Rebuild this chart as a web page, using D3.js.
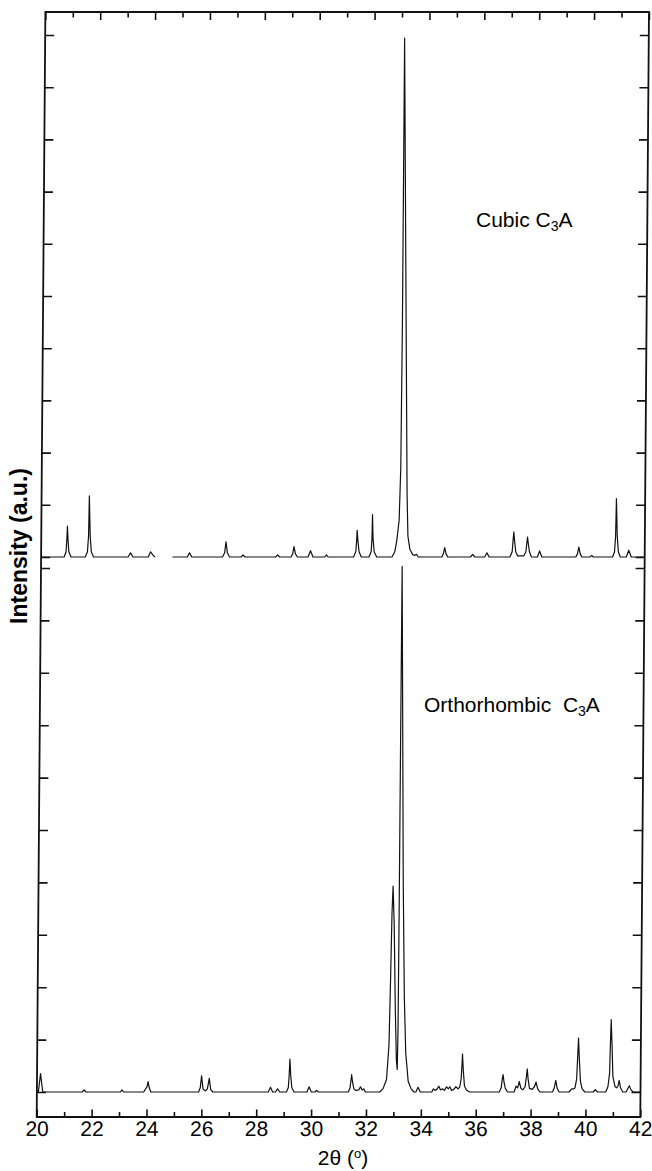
<!DOCTYPE html>
<html>
<head>
<meta charset="utf-8">
<script src="https://cdn.jsdelivr.net/npm/d3@7"></script>
<style>
  body { margin: 0; background: #fff; }
  svg text { font-family: "Liberation Sans", Arial, Helvetica, sans-serif; fill: #000; }
  .tick line { stroke: #111; stroke-width: 1.6; }
  .domain { display: none; }
</style>
</head>
<body>
<svg id="chart" width="652" height="1171"></svg>
<script>
// 2θ axis
const xDomain = [20, 42];
const xMajorTicks = [20, 22, 24, 26, 28, 30, 32, 34, 36, 38, 40, 42];
const xMinorTicks = [21, 23, 25, 27, 29, 31, 33, 35, 37, 39, 41];
// unlabelled intensity ticks, one set per pattern
const yTicks = [0, 1, 2, 3, 4, 5, 6, 7, 8, 9, 10];

// Cubic C3A pattern: [2θ, intensity]; null marks the missing stretch
const cubicPattern = [
  [20.00, 0], [21.00, 0], [21.07, 0.1], [21.10, 0.35], [21.12, 0.59], [21.14, 0.35], [21.17, 0.1], [21.25, 0],
  [21.77, 0], [21.85, 0.1], [21.89, 0.4], [21.92, 1.17], [21.95, 0.4], [21.99, 0.1], [22.07, 0],
  [23.33, 0], [23.42, 0.08], [23.51, 0],
  [24.07, 0], [24.15, 0.10], [24.23, 0.04], [24.31, 0], [24.35, null],
  [24.95, 0], [25.49, 0], [25.57, 0.08], [25.65, 0],
  [26.77, 0], [26.85, 0.08], [26.90, 0.29], [26.95, 0.08], [27.03, 0],
  [27.45, 0], [27.52, 0.04], [27.59, 0],
  [28.71, 0], [28.78, 0.04], [28.85, 0],
  [29.27, 0], [29.33, 0.06], [29.38, 0.2], [29.43, 0.06], [29.50, 0],
  [29.89, 0], [29.98, 0.12], [30.07, 0],
  [30.50, 0], [30.56, 0.04], [30.62, 0],
  [31.55, 0], [31.63, 0.1], [31.66, 0.3], [31.68, 0.51], [31.71, 0.3], [31.75, 0.1], [31.83, 0],
  [32.11, 0], [32.19, 0.1], [32.22, 0.35], [32.24, 0.81], [32.26, 0.35], [32.30, 0.1], [32.39, 0],
  [32.95, 0], [33.05, 0.1], [33.12, 0.3], [33.21, 0.7], [33.27, 1.7], [33.33, 4.5], [33.41, 9.94],
  [33.47, 4.0], [33.50, 1.2], [33.53, 0.4], [33.60, 0.15], [33.70, 0.05], [33.77, 0.03], [33.84, 0.05], [33.91, 0],
  [34.77, 0], [34.82, 0.06], [34.87, 0.18], [34.92, 0.06], [34.98, 0],
  [35.81, 0], [35.89, 0.05], [35.97, 0],
  [36.33, 0], [36.41, 0.08], [36.49, 0],
  [37.25, 0], [37.33, 0.1], [37.36, 0.3], [37.39, 0.48], [37.42, 0.3], [37.46, 0.1], [37.53, 0.02],
  [37.75, 0.02], [37.83, 0.1], [37.86, 0.25], [37.89, 0.38], [37.92, 0.25], [37.96, 0.1], [38.03, 0],
  [38.25, 0], [38.33, 0.115], [38.41, 0],
  [39.65, 0], [39.71, 0.06], [39.76, 0.19], [39.81, 0.06], [39.87, 0],
  [40.17, 0], [40.23, 0.03], [40.29, 0],
  [40.99, 0], [41.06, 0.1], [41.10, 0.4], [41.13, 1.12], [41.16, 0.4], [41.20, 0.1], [41.27, 0],
  [41.49, 0], [41.58, 0.13], [41.67, 0],
  [42.20, 0]
];

// Orthorhombic C3A pattern: [2θ, intensity]
const orthoPattern = [
  [20.00, 0], [20.06, 0], [20.14, 0.35], [20.22, 0],
  [21.66, 0], [21.73, 0.04], [21.80, 0],
  [23.05, 0], [23.11, 0.04], [23.17, 0],
  [23.90, 0], [23.96, 0.05], [24.02, 0.1], [24.06, 0.2], [24.10, 0.08], [24.16, 0],
  [25.90, 0], [25.96, 0.08], [26.01, 0.31], [26.06, 0.06], [26.15, 0.02],
  [26.22, 0.06], [26.29, 0.26], [26.34, 0.05], [26.42, 0],
  [28.44, 0], [28.52, 0.09], [28.60, 0], [28.70, 0], [28.78, 0.06], [28.86, 0],
  [29.10, 0], [29.17, 0.08], [29.20, 0.3], [29.23, 0.63], [29.26, 0.3], [29.30, 0.08], [29.38, 0],
  [29.85, 0], [29.93, 0.1], [30.01, 0], [30.14, 0], [30.20, 0.03], [30.26, 0],
  [31.36, 0], [31.42, 0.08], [31.45, 0.2], [31.48, 0.33], [31.51, 0.2], [31.56, 0.06], [31.63, 0.03],
  [31.74, 0.04], [31.80, 0.10], [31.86, 0.04], [31.92, 0.06], [31.98, 0],
  [32.50, 0], [32.62, 0.06], [32.75, 0.24], [32.84, 0.9], [32.90, 2.2], [32.95, 3.4], [32.99, 3.93],
  [33.03, 3.2], [33.07, 1.6], [33.11, 0.6], [33.14, 0.43], [33.17, 1.2], [33.21, 3.4], [33.26, 6.5],
  [33.32, 10.03], [33.36, 4.0], [33.40, 1.8], [33.45, 0.75], [33.54, 0.2], [33.65, 0.06], [33.75, 0],
  [33.82, 0], [33.90, 0.09], [33.98, 0],
  [34.40, 0], [34.46, 0.06], [34.52, 0.03], [34.58, 0.05], [34.66, 0.11], [34.72, 0.04], [34.80, 0.06],
  [34.86, 0.03], [34.94, 0.10], [35.00, 0.06], [35.06, 0.10], [35.12, 0.03], [35.20, 0.05], [35.28, 0.10],
  [35.36, 0.06], [35.42, 0.1], [35.47, 0.25], [35.50, 0.5], [35.52, 0.725], [35.55, 0.4], [35.59, 0.12],
  [35.66, 0.04], [35.78, 0],
  [36.86, 0], [36.93, 0.08], [36.97, 0.25], [37.00, 0.33], [37.03, 0.2], [37.08, 0.07], [37.16, 0],
  [37.40, 0], [37.47, 0.11], [37.53, 0.08], [37.59, 0.2], [37.65, 0.07],
  [37.72, 0.04], [37.80, 0.1], [37.85, 0.3], [37.88, 0.44], [37.91, 0.25], [37.96, 0.07], [38.06, 0.05],
  [38.14, 0.1], [38.20, 0.19], [38.26, 0.06], [38.34, 0],
  [38.80, 0], [38.86, 0.07], [38.92, 0.22], [38.97, 0.07], [39.04, 0],
  [39.40, 0], [39.50, 0.06], [39.58, 0.06],
  [39.62, 0.08], [39.68, 0.25], [39.72, 0.7], [39.75, 1.03], [39.78, 0.6], [39.82, 0.2], [39.88, 0.06], [39.98, 0],
  [40.28, 0], [40.36, 0.045], [40.44, 0],
  [40.74, 0], [40.82, 0.1], [40.88, 0.35], [40.91, 0.9], [40.94, 1.38], [40.97, 0.9], [41.00, 0.3],
  [41.08, 0.1], [41.14, 0.08], [41.19, 0.12], [41.23, 0.22], [41.28, 0.08], [41.36, 0],
  [41.48, 0], [41.60, 0.12], [41.66, 0.04], [41.74, 0], [42.00, 0]
];

const frame = { left: 36.7, right: 640.3, top: 12, bottom: 1117 };
const lean = -0.45; // the axis box leans slightly to the right towards the top, degrees
const leanTransform = `translate(0,${frame.bottom}) skewX(${lean}) translate(0,${-frame.bottom})`;

const svg = d3.select("#chart");

const x = d3.scaleLinear().domain(xDomain).range([frame.left, frame.right]);
const yCubic = d3.scaleLinear().domain([0, 10]).range([557, 35]);
const yOrtho = d3.scaleLinear().domain([0, 10]).range([1092, 568]);

// clip traces to the leaning box
svg.append("defs").append("clipPath").attr("id", "box")
  .append("rect")
  .attr("transform", leanTransform)
  .attr("x", frame.left).attr("y", frame.top)
  .attr("width", frame.right - frame.left).attr("height", frame.bottom - frame.top);

// diffraction traces
const lineFor = y => d3.line()
  .defined(d => d[1] !== null)
  .x(d => x(d[0]))
  .y(d => y(d[1]));

const traces = svg.append("g").attr("clip-path", "url(#box)");
traces.append("path")
  .datum(cubicPattern)
  .attr("d", lineFor(yCubic))
  .attr("fill", "none").attr("stroke", "#111").attr("stroke-width", 1.2).attr("stroke-linejoin", "round");
traces.append("path")
  .datum(orthoPattern)
  .attr("d", lineFor(yOrtho))
  .attr("fill", "none").attr("stroke", "#111").attr("stroke-width", 1.2).attr("stroke-linejoin", "round");

// axis box and ticks
const box = svg.append("g").attr("transform", leanTransform);

box.append("rect")
  .attr("x", frame.left).attr("y", frame.top)
  .attr("width", frame.right - frame.left).attr("height", frame.bottom - frame.top)
  .attr("fill", "none").attr("stroke", "#111").attr("stroke-width", 1.8);

box.append("g")
  .attr("transform", `translate(0,${frame.bottom})`)
  .call(d3.axisBottom(x).tickValues(xMajorTicks).tickSizeInner(-7.5).tickSizeOuter(0).tickPadding(4).tickFormat(d3.format("d")))
  .call(g => g.selectAll("text").attr("font-size", 21).style("font-family", "'Liberation Sans', Arial, sans-serif"));
box.append("g")
  .attr("transform", `translate(0,${frame.bottom})`)
  .call(d3.axisBottom(x).tickValues(xMinorTicks).tickSizeInner(-5).tickSizeOuter(0).tickFormat(""));

box.append("g")
  .attr("transform", `translate(0,${frame.top})`)
  .call(d3.axisTop(x).tickValues(xMajorTicks).tickSizeInner(-8).tickSizeOuter(0).tickFormat(""));
box.append("g")
  .attr("transform", `translate(0,${frame.top})`)
  .call(d3.axisTop(x).tickValues(xMinorTicks).tickSizeInner(-5.5).tickSizeOuter(0).tickFormat(""));

[yCubic, yOrtho].forEach(y => {
  box.append("g")
    .attr("transform", `translate(${frame.left},0)`)
    .call(d3.axisLeft(y).tickValues(yTicks).tickSizeInner(-9).tickSizeOuter(0).tickFormat(""));
  box.append("g")
    .attr("transform", `translate(${frame.right},0)`)
    .call(d3.axisRight(y).tickValues(yTicks).tickSizeInner(-9).tickSizeOuter(0).tickFormat(""));
});

// phase labels
function phaseLabel(px, py, name) {
  const t = svg.append("text").attr("x", px).attr("y", py).attr("font-size", 21);
  t.append("tspan").text(name + "C");
  t.append("tspan").attr("font-size", 14).attr("dy", 4).text("3");
  t.append("tspan").attr("dy", -4).text("A");
}
phaseLabel(476, 227, "Cubic ");
phaseLabel(424, 712, "Orthorhombic\u00A0 ");

// axis titles
const xt = svg.append("text")
  .attr("x", 343).attr("y", 1165)
  .attr("text-anchor", "middle").attr("font-size", 21);
xt.append("tspan").text("2θ (");
xt.append("tspan").attr("font-size", 13).attr("dy", -7).text("o");
xt.append("tspan").attr("dy", 7).text(")");

svg.append("text")
  .attr("transform", "translate(27,546) rotate(-90)")
  .attr("text-anchor", "middle")
  .attr("font-size", 23)
  .attr("font-weight", "bold")
  .text("Intensity (a.u.)");
</script>
</body>
</html>
